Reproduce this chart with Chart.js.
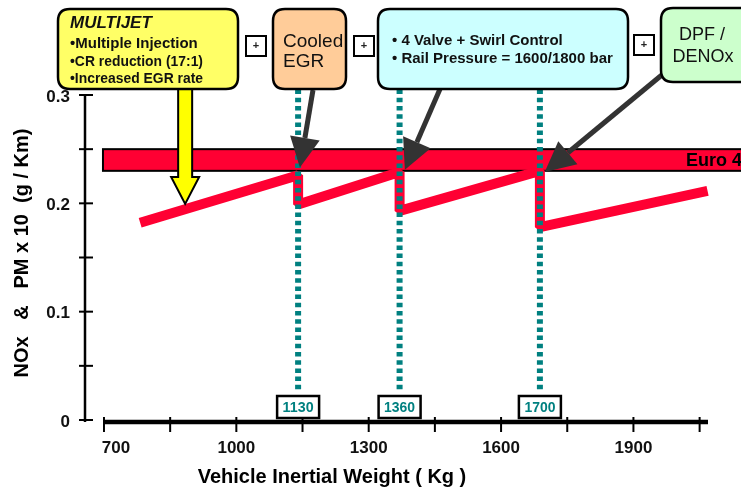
<!DOCTYPE html>
<html>
<head>
<meta charset="utf-8">
<script src="https://cdn.jsdelivr.net/npm/chart.js@4"></script>
<style>
  html, body { margin: 0; padding: 0; background: #fff; }
  canvas { display: block; }
</style>
</head>
<body>
<canvas id="chart" width="741" height="489"></canvas>
<script>
// === Data ===
var xTicks = [700, 850, 1000, 1150, 1300, 1450, 1600, 1750, 1900, 2050];
var xTickLabels = ['700', '', '1000', '', '1300', '', '1600', '', '1900', ''];
var yTicks = [0, 0.05, 0.1, 0.15, 0.2, 0.25, 0.3];
var yTickLabels = ['0', '', '0.1', '', '0.2', '', '0.3'];

// sawtooth emission trend (kg, g/km)
var weightKg = [782, 1140, 1140, 1370, 1370, 1688, 1688, 2068];
var emission = [0.182, 0.226, 0.199, 0.229, 0.193, 0.230, 0.178, 0.2115];

// technology steps
var stepWeights = [1140, 1370, 1688];
var stepLabels = ['1130', '1360', '1700'];
var stepLineRange = [0.025, 0.305];

// Euro 4 limit band
var euroBand = [0.230, 0.250];
var euroStart = 700;
var euroLabel = 'Euro 4';

// arrow targets (kg, value): multijet, cooled EGR, 4 valve, DPF
var arrowTipKg = [884, 1144, 1382, 1699];
var arrowTipVal = [0.1995, 0.233, 0.231, 0.229];

var multijetNotes = ['\u2022Multiple Injection', '\u2022CR reduction (17:1)', '\u2022Increased EGR rate'];
var valveNotes = ['\u2022 4 Valve + Swirl Control', '\u2022 Rail Pressure = 1600/1800 bar'];

var RED = '#ff0033';
var TEAL = '#008080';

function roundRect(ctx, x, y, w, h, r) {
    ctx.beginPath();
    ctx.moveTo(x + r, y);
    ctx.lineTo(x + w - r, y);
    ctx.quadraticCurveTo(x + w, y, x + w, y + r);
    ctx.lineTo(x + w, y + h - r);
    ctx.quadraticCurveTo(x + w, y + h, x + w - r, y + h);
    ctx.lineTo(x + r, y + h);
    ctx.quadraticCurveTo(x, y + h, x, y + h - r);
    ctx.lineTo(x, y + r);
    ctx.quadraticCurveTo(x, y, x + r, y);
    ctx.closePath();
}

function darkArrow(ctx, sx, sy, tx, ty) {
    var dx = tx - sx, dy = ty - sy;
    var len = Math.sqrt(dx * dx + dy * dy);
    var ux = dx / len, uy = dy / len;
    var headLen = 30, headHalf = 15;
    var bx = tx - ux * headLen, by = ty - uy * headLen;
    ctx.strokeStyle = '#333';
    ctx.lineWidth = 5;
    ctx.beginPath();
    ctx.moveTo(sx, sy);
    ctx.lineTo(bx, by);
    ctx.stroke();
    ctx.fillStyle = '#333';
    ctx.beginPath();
    ctx.moveTo(tx, ty);
    ctx.lineTo(bx - uy * headHalf, by + ux * headHalf);
    ctx.lineTo(bx + uy * headHalf, by - ux * headHalf);
    ctx.closePath();
    ctx.fill();
}

function plusBox(ctx, x, y) {
    ctx.fillStyle = '#fff';
    ctx.fillRect(x, y, 20, 20);
    ctx.strokeStyle = '#000';
    ctx.lineWidth = 2;
    ctx.strokeRect(x, y, 20, 20);
    ctx.fillStyle = '#222';
    ctx.font = 'bold 11px "Liberation Sans", Arial';
    ctx.textAlign = 'center';
    ctx.textBaseline = 'middle';
    ctx.fillText('+', x + 10, y + 10);
}

var bandPlugin = {
    id: 'euroBand',
    beforeDatasetsDraw: function(chart) {
        var ctx = chart.ctx;
        var xs = chart.scales.x, ys = chart.scales.y;
        var x0 = xs.getPixelForValue(euroStart) - 1;
        var yTop = ys.getPixelForValue(euroBand[1]);
        var yBot = ys.getPixelForValue(euroBand[0]);
        ctx.save();
        ctx.fillStyle = RED;
        ctx.fillRect(x0, yTop, chart.width - x0 + 5, yBot - yTop);
        ctx.strokeStyle = '#000';
        ctx.lineWidth = 2;
        ctx.strokeRect(x0, yTop, chart.width - x0 + 5, yBot - yTop);
        ctx.fillStyle = '#000';
        ctx.font = 'bold 18px "Liberation Sans", Arial';
        ctx.textAlign = 'right';
        ctx.textBaseline = 'middle';
        ctx.fillText(euroLabel, chart.width + 1, (yTop + yBot) / 2 + 1);
        ctx.restore();
    }
};

var axesPlugin = {
    id: 'axesDraw',
    afterDatasetsDraw: function(chart) {
        var ctx = chart.ctx;
        var xs = chart.scales.x, ys = chart.scales.y;
        var area = chart.chartArea;
        var y0 = ys.getPixelForValue(0);
        ctx.save();
        ctx.strokeStyle = '#000';
        ctx.fillStyle = '#111';

        // y axis
        ctx.lineWidth = 2.5;
        ctx.beginPath();
        ctx.moveTo(area.left, ys.getPixelForValue(0.3));
        ctx.lineTo(area.left, y0 + 2);
        ctx.stroke();
        ctx.lineWidth = 2;
        ctx.font = 'bold 17px "Liberation Sans", Arial';
        ctx.textAlign = 'right';
        ctx.textBaseline = 'middle';
        yTicks.forEach(function(v, i) {
            var py = ys.getPixelForValue(v);
            ctx.beginPath();
            ctx.moveTo(area.left - 6, py);
            ctx.lineTo(area.left + 8, py);
            ctx.stroke();
            if (yTickLabels[i]) ctx.fillText(yTickLabels[i], area.left - 15, py + 2);
        });

        // x axis
        ctx.lineWidth = 4.5;
        ctx.beginPath();
        ctx.moveTo(xs.getPixelForValue(xTicks[0]), y0 + 2);
        ctx.lineTo(area.right, y0 + 2);
        ctx.stroke();
        ctx.lineWidth = 2;
        ctx.textAlign = 'center';
        xTicks.forEach(function(v, i) {
            var px = xs.getPixelForValue(v);
            ctx.beginPath();
            ctx.moveTo(px, y0 - 3);
            ctx.lineTo(px, y0 + 12);
            ctx.stroke();
            if (xTickLabels[i]) {
                var lx = i === 0 ? px + 12 : px;
                ctx.fillText(xTickLabels[i], lx, y0 + 28);
            }
        });

        // titles
        ctx.fillStyle = '#000';
        ctx.font = 'bold 20px "Liberation Sans", Arial';
        ctx.fillText('Vehicle Inertial Weight ( Kg )', 332, 477);
        ctx.save();
        ctx.translate(22, 253);
        ctx.rotate(-Math.PI / 2);
        ctx.fillText('NOx   &   PM x 10  (g / Km)', 0, 0);
        ctx.restore();

        // step value boxes
        stepWeights.forEach(function(w, i) {
            var px = xs.getPixelForValue(w);
            var bx = px - 21, by = y0 - 24, bw = 42, bh = 22;
            ctx.fillStyle = '#fff';
            ctx.fillRect(bx, by, bw, bh);
            ctx.strokeStyle = '#000';
            ctx.lineWidth = 2.5;
            ctx.strokeRect(bx, by, bw, bh);
            ctx.fillStyle = TEAL;
            ctx.font = 'bold 15px "Liberation Sans", Arial';
            ctx.textAlign = 'center';
            ctx.textBaseline = 'middle';
            ctx.fillText(stepLabels[i], px, by + bh / 2 + 1, 31);
        });
        ctx.restore();
    }
};

var calloutPlugin = {
    id: 'callouts',
    afterDraw: function(chart) {
        var ctx = chart.ctx;
        var xs = chart.scales.x, ys = chart.scales.y;
        var tips = arrowTipKg.map(function(k, i) {
            return [xs.getPixelForValue(k), ys.getPixelForValue(arrowTipVal[i])];
        });
        ctx.save();

        // yellow arrow
        var yx = tips[0][0], yt = tips[0][1];
        ctx.beginPath();
        ctx.moveTo(yx - 7, 88);
        ctx.lineTo(yx + 7, 88);
        ctx.lineTo(yx + 7, yt - 27);
        ctx.lineTo(yx + 14, yt - 27);
        ctx.lineTo(yx, yt);
        ctx.lineTo(yx - 14, yt - 27);
        ctx.lineTo(yx - 7, yt - 27);
        ctx.closePath();
        ctx.fillStyle = '#ffff00';
        ctx.fill();
        ctx.strokeStyle = '#000';
        ctx.lineWidth = 2;
        ctx.stroke();

        // dark arrows
        darkArrow(ctx, 313, 90, tips[1][0], tips[1][1]);
        darkArrow(ctx, 440, 89, tips[2][0], tips[2][1]);
        darkArrow(ctx, 663, 74, tips[3][0], tips[3][1]);

        // boxes
        ctx.lineWidth = 2.5;
        ctx.strokeStyle = '#000';
        roundRect(ctx, 58, 9, 180, 80, 12);
        ctx.fillStyle = '#ffff66';
        ctx.fill();
        ctx.stroke();
        roundRect(ctx, 273, 9, 73, 80, 12);
        ctx.fillStyle = '#ffcc99';
        ctx.fill();
        ctx.stroke();
        roundRect(ctx, 378, 9, 250, 80, 12);
        ctx.fillStyle = '#ccffff';
        ctx.fill();
        ctx.stroke();
        roundRect(ctx, 661, 8, 100, 74, 12);
        ctx.fillStyle = '#ccffcc';
        ctx.fill();
        ctx.stroke();

        plusBox(ctx, 246, 36);
        plusBox(ctx, 354, 36);
        plusBox(ctx, 634, 35);

        // box text
        ctx.fillStyle = '#111';
        ctx.textAlign = 'left';
        ctx.textBaseline = 'alphabetic';
        ctx.font = 'italic bold 17px "Liberation Sans", Arial';
        ctx.fillText('MULTIJET', 70, 28);
        ctx.font = 'bold 15px "Liberation Sans", Arial';
        multijetNotes.forEach(function(t, i) {
            ctx.fillText(t, 70, 48 + i * 17.5, 133);
        });
        valveNotes.forEach(function(t, i) {
            ctx.fillText(t, 392, 45 + i * 18, 226);
        });
        ctx.font = '19px "Liberation Sans", Arial';
        ctx.fillText('Cooled', 283, 47);
        ctx.fillText('EGR', 283, 67);
        ctx.textAlign = 'center';
        ctx.font = '18px "Liberation Sans", Arial';
        ctx.fillText('DPF /', 702, 40);
        ctx.fillText('DENOx', 703, 62);
        ctx.restore();
    }
};

var trendPoints = weightKg.map(function(w, i) { return { x: w, y: emission[i] }; });

var stepDatasets = stepWeights.map(function(w) {
    return {
        data: [{ x: w, y: stepLineRange[1] }, { x: w, y: stepLineRange[0] }],
        borderColor: TEAL,
        borderWidth: 6,
        borderDash: [4.5, 3.7],
        pointRadius: 0,
        clip: false,
        order: 1
    };
});

new Chart(document.getElementById('chart').getContext('2d'), {
    type: 'line',
    data: {
        datasets: stepDatasets.concat([{
            data: trendPoints,
            borderColor: RED,
            borderWidth: 10,
            borderJoinStyle: 'bevel',
            pointRadius: 0,
            tension: 0,
            clip: false,
            order: 2
        }])
    },
    options: {
        responsive: false,
        animation: false,
        layout: { padding: { left: 85, right: 33, top: 95, bottom: 69 } },
        plugins: { legend: { display: false }, tooltip: { enabled: false } },
        scales: {
            x: { type: 'linear', min: 657, max: 2069, display: false },
            y: { min: 0, max: 0.3, display: false }
        }
    },
    plugins: [bandPlugin, axesPlugin, calloutPlugin]
});
</script>
</body>
</html>
